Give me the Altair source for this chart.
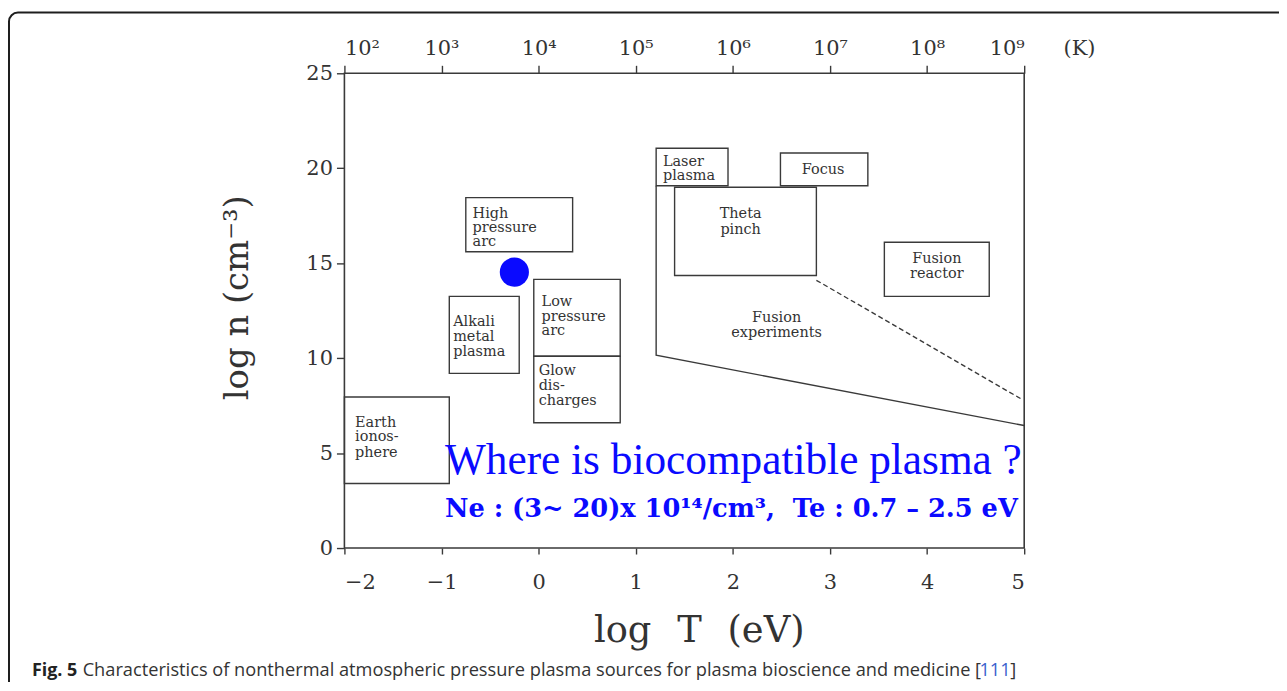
import json
import altair as alt
import pandas as pd

# ---------------- data ----------------
box_name = ["Earth ionosphere", "High pressure arc", "Alkali metal plasma",
            "Low pressure arc", "Glow discharges", "Laser plasma", "Focus",
            "Theta pinch", "Fusion reactor"]
box_x1 = [-2.00, -0.75, -0.92, -0.05, -0.05, 1.21, 2.49, 1.40, 3.56]
box_x2 = [-0.92, 0.35, -0.20, 0.84, 0.84, 1.95, 3.39, 2.86, 4.64]
box_y1 = [3.40, 15.60, 9.20, 10.10, 6.60, 19.08, 19.08, 14.35, 13.25]
box_y2 = [7.95, 18.45, 13.25, 14.15, 10.10, 21.05, 20.80, 19.00, 16.10]

# outline of the "Fusion experiments" region
fus_x = [1.21, 1.21, 5.00]
fus_y = [19.08, 10.15, 6.45]
# dashed boundary
dash_x = [2.86, 4.97]
dash_y = [14.10, 7.85]

# left-aligned label lines
lab_text_l = ["Earth", "ionos-", "phere", "High", "pressure", "arc",
              "Alkali", "metal", "plasma", "Low", "pressure", "arc",
              "Glow", "dis-", "charges", "Laser", "plasma"]
lab_x_l = [-1.89, -1.89, -1.89, -0.68, -0.68, -0.68, -0.88, -0.88, -0.88,
           0.03, 0.03, 0.03, 0.00, 0.00, 0.00, 1.28, 1.28]
lab_y_l = [6.60, 5.82, 5.03, 17.61, 16.85, 16.09, 11.91, 11.13, 10.34,
           12.96, 12.18, 11.44, 9.30, 8.52, 7.74, 20.35, 19.60]

# centred label lines
lab_text_c = ["Focus", "Theta", "pinch", "Fusion", "reactor", "Fusion", "experiments"]
lab_x_c = [2.93, 2.08, 2.08, 4.10, 4.10, 2.45, 2.45]
lab_y_c = [19.90, 17.59, 16.76, 15.24, 14.45, 12.09, 11.30]

# biocompatible plasma point
dot_x = [-0.25]
dot_y = [14.53]

annot_title = "Where is biocompatible plasma ?"
annot_sub = "Ne : (3~ 20)x 10\u00b9\u2074/cm\u00b3,\u00a0\u00a0Te : 0.7 \u2013 2.5 eV"
annot_x = [-0.965, -0.965]
annot_y = [4.56, 2.04]

x_ticks = [-2, -1, 0, 1, 2, 3, 4, 5]
y_ticks = [0, 5, 10, 15, 20, 25]
kelvin_labels = ["10\u00b2", "10\u00b3", "10\u2074", "10\u2075",
                 "10\u2076", "10\u2077", "10\u2078", "10\u2079"]

cap_bold = "Fig. 5"
cap_text = ("Characteristics of nonthermal atmospheric pressure plasma sources "
            "for plasma bioscience and medicine [")
cap_ref = "111"
cap_end = "]"

# ---------------- tables ----------------
box_df = pd.DataFrame({"name": box_name, "x1": box_x1, "x2": box_x2,
                       "y1": box_y1, "y2": box_y2})
fus_df = pd.DataFrame({"x": fus_x, "y": fus_y, "o": list(range(len(fus_x)))})
dash_df = pd.DataFrame({"x": dash_x, "y": dash_y})
lab_l_df = pd.DataFrame({"t": lab_text_l, "x": lab_x_l, "y": lab_y_l})
lab_c_df = pd.DataFrame({"t": lab_text_c, "x": lab_x_c, "y": lab_y_c})
dot_df = pd.DataFrame({"x": dot_x, "y": dot_y})
ytick_df = pd.DataFrame({"v": y_ticks})
ann1_df = pd.DataFrame({"t": [annot_title], "x": [annot_x[0]], "y": [annot_y[0]]})
ann2_df = pd.DataFrame({"t": [annot_sub], "x": [annot_x[1]], "y": [annot_y[1]]})

SERIF = "DejaVu Serif"
INK = "#3a3a3a"
BLUE = "#0a0aff"

XS = alt.Scale(domain=[-2, 5], nice=False, zero=False)
YS = alt.Scale(domain=[0, 25], nice=False, zero=False)

label_expr = (json.dumps(kelvin_labels, ensure_ascii=False)
              + "[indexof(" + json.dumps(x_ticks) + ", datum.value)]")

common_axis = dict(domain=False, grid=False, labelFont=SERIF, labelFontSize=21,
                   labelColor="#333333", tickColor=INK, tickWidth=1.4,
                   titleFont=SERIF, titleFontWeight="normal", titleColor="#333333")

boxes = alt.Chart(box_df).mark_rect(
    fillOpacity=0, stroke=INK, strokeWidth=1.4
).encode(
    x=alt.X("x1:Q", scale=XS, axis=alt.Axis(
        orient="bottom", values=x_ticks, tickSize=6, labelPadding=18,
        title="log\u2002\u2009T\u2002\u2009(eV)", titleFontSize=37, titleX=356, titleY=83,
        titleAlign="center", titleBaseline="middle", **common_axis)),
    x2="x2:Q",
    y=alt.Y("y1:Q", scale=YS, axis=None),
    y2="y2:Q",
)

# dedicated layer carrying the left (log n) axis
yaxis = alt.Chart(ytick_df).mark_tick(opacity=0).encode(
    y=alt.Y("v:Q", scale=YS, axis=alt.Axis(
        orient="left", values=y_ticks, tickSize=8, labelPadding=4,
        title="log n (cm\u207b\u00b3)", titleFontSize=34, titleX=-90, titleY=225,
        **common_axis)),
)

fusion = alt.Chart(fus_df).mark_line(color=INK, strokeWidth=1.4).encode(
    x=alt.X("x:Q", scale=XS, axis=None),
    y=alt.Y("y:Q", scale=YS, axis=None),
    order="o:Q",
)

dashed = alt.Chart(dash_df).mark_line(color=INK, strokeWidth=1.4, strokeDash=[5, 3]).encode(
    x=alt.X("x:Q", scale=XS, axis=None),
    y=alt.Y("y:Q", scale=YS, axis=None),
)

labels_l = alt.Chart(lab_l_df).mark_text(
    align="left", baseline="middle", font=SERIF, fontSize=14.5, color="#333333"
).encode(x=alt.X("x:Q", scale=XS, axis=None), y=alt.Y("y:Q", scale=YS, axis=None), text="t:N")

labels_c = alt.Chart(lab_c_df).mark_text(
    align="center", baseline="middle", font=SERIF, fontSize=14.5, color="#333333"
).encode(x=alt.X("x:Q", scale=XS, axis=None), y=alt.Y("y:Q", scale=YS, axis=None), text="t:N")

dot = alt.Chart(dot_df).mark_circle(size=860, color=BLUE, opacity=1).encode(
    x=alt.X("x:Q", scale=XS, axis=alt.Axis(
        orient="top", values=x_ticks, labelExpr=label_expr, tickSize=8, labelPadding=7,
        title="(K)", titleFontSize=21, titleX=738, titleY=-25,
        titleAlign="center", titleBaseline="middle", **common_axis)),
    y=alt.Y("y:Q", scale=YS, axis=None),
)

ann1 = alt.Chart(ann1_df).mark_text(
    align="left", baseline="middle", font="Liberation Serif", fontSize=43.5, color=BLUE
).encode(x=alt.X("x:Q", scale=XS, axis=None), y=alt.Y("y:Q", scale=YS, axis=None), text="t:N")

ann2 = alt.Chart(ann2_df).mark_text(
    align="left", baseline="middle", font=SERIF, fontSize=25.8,
    fontWeight="bold", color=BLUE
).encode(x=alt.X("x:Q", scale=XS, axis=None), y=alt.Y("y:Q", scale=YS, axis=None), text="t:N")

# decorative outer frame and caption (page furniture, in pixels)
frame = alt.Chart(alt.Data(values=[{}])).mark_rect(
    fillOpacity=0, stroke="#1e1e1e", strokeWidth=2, cornerRadius=9
).encode(x=alt.value(-337), x2=alt.value(980), y=alt.value(-61), y2=alt.value(720))

cap_y = 601
cap1 = alt.Chart(alt.Data(values=[{"t": cap_bold}])).mark_text(
    align="left", baseline="middle", font="Open Sans", fontSize=18, fontWeight="bold", color="#222222"
).encode(x=alt.value(-314), y=alt.value(cap_y), text="t:N")
cap2 = alt.Chart(alt.Data(values=[{"t": cap_text}])).mark_text(
    align="left", baseline="middle", font="Open Sans", fontSize=18.3, color="#333333"
).encode(x=alt.value(-263), y=alt.value(cap_y), text="t:N")
cap3 = alt.Chart(alt.Data(values=[{"t": cap_ref}])).mark_text(
    align="left", baseline="middle", font="Open Sans", fontSize=18.3, color="#3a5fcd"
).encode(x=alt.value(638), y=alt.value(cap_y), text="t:N")
cap4 = alt.Chart(alt.Data(values=[{"t": cap_end}])).mark_text(
    align="left", baseline="middle", font="Open Sans", fontSize=18.3, color="#333333"
).encode(x=alt.value(669), y=alt.value(cap_y), text="t:N")

chart = alt.layer(
    boxes, yaxis, fusion, dashed, labels_l, labels_c, dot, ann1, ann2,
    frame, cap1, cap2, cap3, cap4
).resolve_axis(
    y="independent"
).properties(
    width=683, height=477,
    background="white",
    autosize=alt.AutoSizeParams(type="none"),
    padding={"left": 338, "top": 64, "right": 256, "bottom": 133},
).configure_view(
    stroke=INK, strokeWidth=1.6
)

chart.save("out.html", embed_options={"renderer": "svg", "actions": False})
